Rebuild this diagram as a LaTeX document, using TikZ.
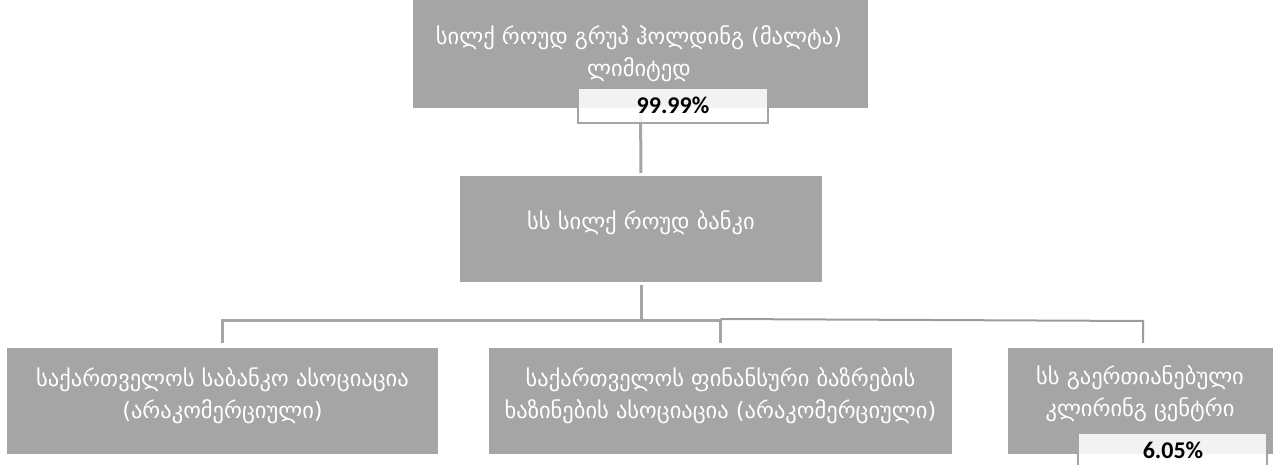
\documentclass[tikz,border=0pt]{standalone}
\usepackage{fontspec}
\newfontfamily\geo{DejaVu Sans}
\newfontfamily\pct{Carlito}
\definecolor{boxgray}{HTML}{A5A5A5}
\definecolor{linegray}{HTML}{A5A5A5}
\definecolor{linegray2}{HTML}{9C9C9C}
\begin{document}
\begin{tikzpicture}[x=1pt,y=-1pt,
  orgbox/.style={fill=boxgray, draw=none, text=white, align=center,
    font=\geo\fontsize{22.5}{32}\selectfont, inner sep=0pt},
  pctbox/.style={fill=white, fill opacity=0.86, text opacity=1, draw=boxgray, line width=1.5pt, inner sep=0pt},
  pcttext/.style={font=\pct\bfseries\fontsize{24}{28}\selectfont, inner sep=0pt},
  conn/.style={draw=linegray, line width=3pt},
  conn2/.style={draw=linegray2, line width=2pt}]
\useasboundingbox (0,0) rectangle (1273,465);
% boxes
\node[orgbox, minimum width=455pt, minimum height=108pt] (top) at (640.5,54) {};
\node[orgbox] (toptext) at (639,54) {სილქ როუდ გრუპ ჰოლდინგ (მალტა)\\ლიმიტედ};
\node[orgbox, minimum width=362pt, minimum height=106pt] (mid) at (641,229) {};
\node[orgbox] (midtext) at (641,223) {სს სილქ როუდ ბანკი};
\node[orgbox, minimum width=431pt, minimum height=106pt] (b1) at (222.5,401) {};
\node[orgbox] (b1text) at (222.5,396) {საქართველოს საბანკო ასოციაცია\\(არაკომერციული)};
\node[orgbox, minimum width=463pt, minimum height=106pt] (b2) at (720.5,401) {};
\node[orgbox] (b2text) at (720.5,396) {საქართველოს ფინანსური ბაზრების\\ხაზინების ასოციაცია (არაკომერციული)};
\node[orgbox, minimum width=270pt, minimum height=106pt] (b3) at (1143,401) {};
\node[orgbox] (b3text) at (1140,394) {სს გაერთიანებული\\კლირინგ ცენტრი};
% connectors
\coordinate (j0) at (641,320);
\coordinate (j1) at (222.5,320);
\coordinate (j2) at (720.5,320);
\coordinate (j3) at (1143,321);
\draw[conn, shorten >=3pt] (top.south) -- (mid.north);
\draw[conn, shorten <=3pt, shorten >=5pt] (mid.south) -- (j0) -- (j1) -- (b1.north);
\draw[conn, shorten >=5pt] (j0) -- (j2) -- (b2.north);
\draw[conn2, shorten >=5pt] ([yshift=1pt]j2) -- (j3) -- (b3.north);
% percentage boxes
\node[pctbox, minimum width=190pt, minimum height=35pt] (p1) at (673,105.5) {};
\node[pcttext] (p1t) at (673,105) {99.99\%};
\node[pctbox, minimum width=189pt, minimum height=40pt] (p2) at (1172.5,453) {};
\node[pcttext] (p2t) at (1173,450) {6.05\%};
\end{tikzpicture}
\end{document}
